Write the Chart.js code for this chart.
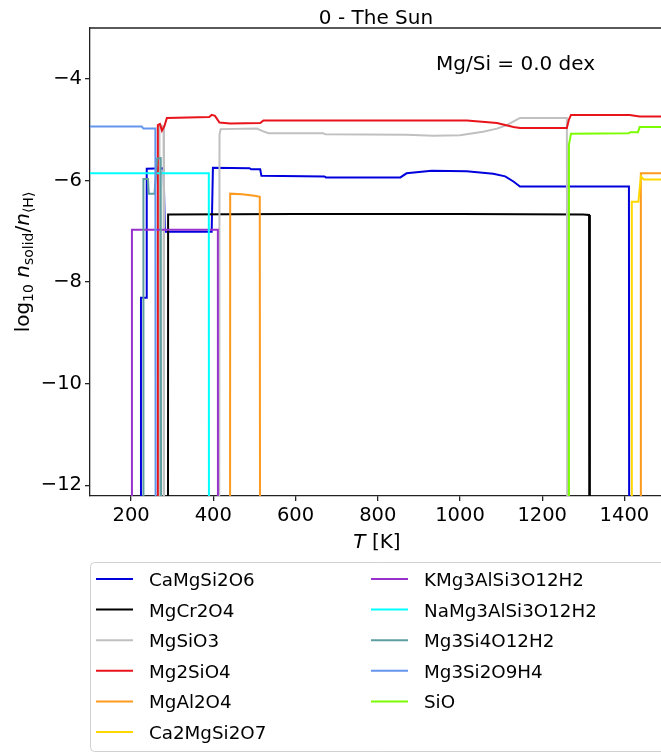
<!DOCTYPE html>
<html lang="en">
<head>
<meta charset="UTF-8">
<title>0 - The Sun</title>
<script src="https://cdn.jsdelivr.net/npm/chart.js"></script>
<style>
  html, body { margin: 0; padding: 0; background: #fff; overflow: hidden; }
</style>
</head>
<body>
<canvas id="condChart" width="661" height="753"></canvas>
<script>
// condensate species, temperature grid [K] and log10 n_solid/n_H
// (-30 = not present, i.e. far below the plotted range)
const species = ['CaMgSi2O6', 'MgCr2O4', 'MgSiO3', 'Mg2SiO4', 'MgAl2O4', 'Ca2MgSi2O7',
                 'KMg3AlSi3O12H2', 'NaMg3AlSi3O12H2', 'Mg3Si4O12H2', 'Mg3Si2O9H4', 'SiO'];
const colours = ['#0000dd', '#000000', '#c0c0c0', '#e8141c', '#fb9a1e', '#ffd700',
                 '#9932cc', '#00ffff', '#5f9ea0', '#6495ed', '#7cfc00'];

const tCaMgSi2O6 = [100, 223, 224, 237, 238, 279, 282, 396, 399, 488, 492, 514, 517, 670, 674, 855, 870, 931, 1016, 1081, 1110, 1130, 1146, 1411, 1413, 1489];
const nCaMgSi2O6 = [-30, -30, -8.31, -8.31, -5.77, -5.76, -7.01, -7.01, -5.75, -5.76, -5.78, -5.78, -5.91, -5.92, -5.94, -5.94, -5.86, -5.81, -5.82, -5.87, -5.92, -6.02, -6.12, -6.12, -30, -30];

const tMgCr2O4 = [100, 289, 290, 600, 1000, 1300, 1314, 1316, 1489];
const nMgCr2O4 = [-30, -30, -6.67, -6.66, -6.66, -6.67, -6.68, -30, -30];

const tMgSiO3 = [100, 268, 269, 274, 279, 280, 413, 415, 418, 506, 520, 534, 667, 672, 870, 935, 1000, 1056, 1090, 1114, 1135, 1146, 1260, 1263, 1489];
const nMgSiO3 = [-30, -30, -4.95, -4.92, -4.95, -30, -30, -5.1, -4.99, -4.98, -5.03, -5.07, -5.07, -5.09, -5.1, -5.12, -5.11, -5.04, -4.98, -4.91, -4.82, -4.77, -4.77, -30, -30];

const tMg2SiO4 = [100, 263, 265, 270, 275, 281, 287, 390, 396, 404, 415, 441, 514, 522, 800, 1017, 1090, 1130, 1146, 1260, 1265, 1270, 1413, 1437, 1489];
const nMg2SiO4 = [-30, -30, -4.91, -4.89, -5.02, -4.93, -4.77, -4.75, -4.71, -4.73, -4.86, -4.88, -4.87, -4.82, -4.82, -4.82, -4.87, -4.95, -4.97, -4.97, -4.8, -4.71, -4.71, -4.74, -4.74];

const tMgAl2O4 = [100, 440, 441, 470, 500, 513, 515, 1438, 1440, 1489];
const nMgAl2O4 = [-30, -30, -6.26, -6.27, -6.3, -6.32, -30, -30, -5.86, -5.86];

const tCa2MgSi2O7 = [100, 1417, 1418, 1434, 1440, 1447, 1489];
const nCa2MgSi2O7 = [-30, -30, -6.42, -6.42, -5.92, -5.98, -5.98];

const tKMg3AlSi3O12H2 = [100, 201, 202, 411, 412, 1489];
const nKMg3AlSi3O12H2 = [-30, -30, -6.97, -6.97, -30, -30];

const tNaMg3AlSi3O12H2 = [100, 389, 390, 1489];
const nNaMg3AlSi3O12H2 = [-5.86, -5.86, -30, -30];

const tMg3Si4O12H2 = [100, 229, 230, 241, 243, 257, 263, 272, 275, 1489];
const nMg3Si4O12H2 = [-30, -30, -5.97, -5.97, -6.26, -6.26, -5.57, -5.56, -30, -30];

const tMg3Si2O9H4 = [100, 226, 230, 259, 261, 1489];
const nMg3Si2O9H4 = [-4.94, -4.94, -4.98, -4.98, -30, -30];

const tSiO = [100, 1263, 1265, 1270, 1410, 1415, 1433, 1437, 1489];
const nSiO = [-30, -30, -5.3, -5.08, -5.07, -5.05, -5.05, -4.95, -4.95];

const temps = [tCaMgSi2O6, tMgCr2O4, tMgSiO3, tMg2SiO4, tMgAl2O4, tCa2MgSi2O7,
               tKMg3AlSi3O12H2, tNaMg3AlSi3O12H2, tMg3Si4O12H2, tMg3Si2O9H4, tSiO];
const abund = [nCaMgSi2O6, nMgCr2O4, nMgSiO3, nMg2SiO4, nMgAl2O4, nCa2MgSi2O7,
               nKMg3AlSi3O12H2, nNaMg3AlSi3O12H2, nMg3Si4O12H2, nMg3Si2O9H4, nSiO];

const xTicks = [200, 400, 600, 800, 1000, 1200, 1400];
const yTicks = [-12, -10, -8, -6, -4];

const FONT = 'DejaVu Sans';
const fmt = v => (v < 0 ? '\u2212' + Math.abs(v) : String(v));

// draw a row of text pieces (normal / italic / subscript) starting at x
function drawPieces(ctx, pieces, x, y) {
  pieces.forEach(p => {
    ctx.font = (p.italic ? 'italic ' : '') + p.size + 'px "' + FONT + '"';
    ctx.fillText(p.t, x, y + (p.dy || 0));
    x += ctx.measureText(p.t).width;
  });
}
function piecesWidth(ctx, pieces) {
  let w = 0;
  pieces.forEach(p => {
    ctx.font = (p.italic ? 'italic ' : '') + p.size + 'px "' + FONT + '"';
    w += ctx.measureText(p.t).width;
  });
  return w;
}

const decorations = {
  id: 'decorations',
  afterDraw(chart) {
    const ctx = chart.ctx;
    const area = chart.chartArea;
    ctx.save();
    // top spine
    ctx.strokeStyle = '#222';
    ctx.lineWidth = 1.3;
    ctx.beginPath();
    ctx.moveTo(area.left, area.top);
    ctx.lineTo(area.right, area.top);
    ctx.stroke();

    ctx.fillStyle = '#000';
    ctx.textBaseline = 'alphabetic';
    ctx.textAlign = 'center';
    ctx.font = '20px "' + FONT + '"';
    ctx.fillText('0 - The Sun', 376, 24);

    ctx.textAlign = 'left';
    ctx.fillText('Mg/Si = 0.0 dex', 436, 70);

    // x label
    const xl = [{ t: 'T', size: 20, italic: true }, { t: ' [K]', size: 20 }];
    drawPieces(ctx, xl, 377 - piecesWidth(ctx, xl) / 2, 548);

    // y label
    const yl = [
      { t: 'log', size: 20 }, { t: '10', size: 14, dy: 4 }, { t: ' ', size: 20 },
      { t: 'n', size: 20, italic: true }, { t: 'solid', size: 14, dy: 4 },
      { t: '/', size: 20 }, { t: 'n', size: 20, italic: true }, { t: '\u27e8H\u27e9', size: 14, dy: 4 }
    ];
    ctx.save();
    ctx.translate(29, (area.top + area.bottom) / 2);
    ctx.rotate(-Math.PI / 2);
    drawPieces(ctx, yl, -piecesWidth(ctx, yl) / 2, 0);
    ctx.restore();

    // legend box, two columns filled top to bottom
    ctx.beginPath();
    ctx.roundRect(90.5, 562.5, 620, 189, 4);
    ctx.fillStyle = 'rgba(255,255,255,0.8)';
    ctx.fill();
    ctx.strokeStyle = '#d0d0d0';
    ctx.lineWidth = 1;
    ctx.stroke();
    ctx.font = '18.3px "' + FONT + '"';
    ctx.textAlign = 'left';
    chart.data.datasets.forEach((ds, i) => {
      const col = i < 6 ? 0 : 1;
      const row = i < 6 ? i : i - 6;
      const lx = col ? 371 : 96;
      const ty = 579 + row * 30.6;
      ctx.strokeStyle = ds.borderColor;
      ctx.lineWidth = 2;
      ctx.beginPath();
      ctx.moveTo(lx, ty);
      ctx.lineTo(lx + 37, ty);
      ctx.stroke();
      ctx.fillStyle = '#000';
      ctx.fillText(ds.label, lx + 53, ty + 7);
    });
    ctx.restore();
  }
};

const axisCommon = {
  type: 'linear',
  grid: { drawOnChartArea: false, drawTicks: true, tickLength: 5, color: '#222', lineWidth: 1.3 },
  border: { display: true, color: '#222', width: 1.3 },
  ticks: {
    color: '#000', font: { family: FONT, size: 19.5 }, padding: 3,
    maxRotation: 0, autoSkip: false, callback: v => fmt(v)
  }
};

new Chart(document.getElementById('condChart').getContext('2d'), {
  type: 'scatter',
  data: {
    datasets: species.map((name, i) => ({
      label: name,
      data: temps[i].map((t, j) => ({ x: t, y: abund[i][j] })),
      borderColor: colours[i],
      backgroundColor: colours[i],
      showLine: true,
      borderWidth: 2,
      pointRadius: 0,
      tension: 0,
      order: species.length - i
    }))
  },
  options: {
    responsive: false,
    animation: false,
    layout: { padding: { top: 28, left: 0, right: 0, bottom: 0 } },
    plugins: { legend: { display: false }, title: { display: false }, tooltip: { enabled: false } },
    scales: {
      x: {
        ...axisCommon, min: 100, max: 1489,
        afterFit: s => { s.height = 257; },
        afterBuildTicks: s => { s.ticks = xTicks.map(v => ({ value: v })); }
      },
      y: {
        ...axisCommon, min: -12.21, max: -3.0,
        afterFit: s => { s.width = 90; },
        afterBuildTicks: s => { s.ticks = yTicks.map(v => ({ value: v })); }
      }
    }
  },
  plugins: [decorations]
});
</script>
</body>
</html>
